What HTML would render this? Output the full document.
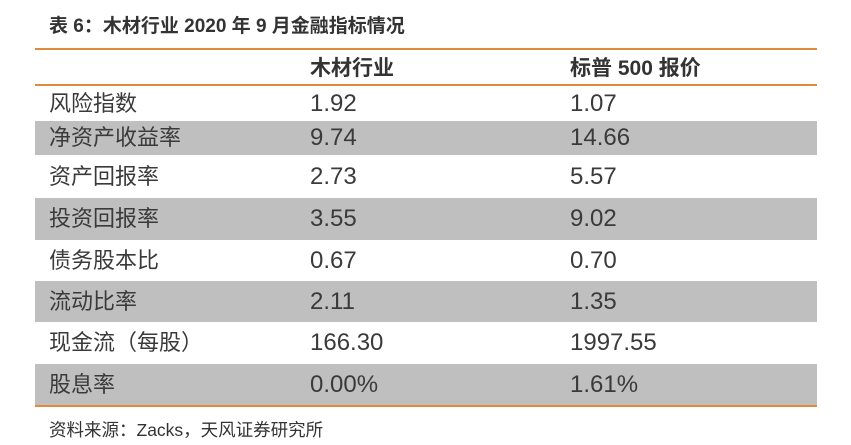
<!DOCTYPE html>
<html><head><meta charset="utf-8">
<style>
html,body{margin:0;padding:0;background:#fff;width:851px;height:445px;overflow:hidden;position:relative;font-family:"Liberation Sans","Noto Sans CJK SC",sans-serif;color:#3a3a3a}
.title{position:absolute;left:49px;top:14px;height:26px;line-height:26px;font-size:19px;font-weight:bold;color:#333;white-space:nowrap}
.rule{position:absolute;left:35px;width:782px;height:2px;background:#e08a3c}
.row{position:absolute;left:35px;width:782px}
.row.g{background:#bfbfbf}
.c{position:absolute;top:0;white-space:nowrap;font-size:24px}
.c.cjk{font-size:22px}
.c1{left:14px}.c2{left:275px}.c3{left:535px}
.hdr .c{font-size:21px;font-weight:bold;color:#333}
.src{position:absolute;left:49px;top:418px;height:24px;line-height:24px;font-size:17.5px;color:#333;white-space:nowrap}
</style></head><body>
<div class="title">表 6：木材行业 2020 年 9 月金融指标情况</div>
<div class="rule" style="top:48px"></div>
<div class="row hdr" style="top:50px;height:35px">
 <div class="c c2" style="line-height:37px">木材行业</div>
 <div class="c c3" style="line-height:37px">标普 500 报价</div>
</div>
<div class="rule" style="top:84px"></div>
<div id="rows"></div>
<div class="rule" style="top:405px;height:1.5px"></div>
<div class="src">资料来源：Zacks，天风证券研究所</div>
<script>
const labels=["风险指数","净资产收益率","资产回报率","投资回报率","债务股本比","流动比率","现金流（每股）","股息率"];
const woodValues=["1.92","9.74","2.73","3.55","0.67","2.11","166.30","0.00%"];
const spValues=["1.07","14.66","5.57","9.02","0.70","1.35","1997.55","1.61%"];
const tops=[86,121,155,198,240,281,322,364,406];
const host=document.getElementById('rows');
labels.forEach((lab,i)=>{
 const r=document.createElement('div');
 r.className='row'+(i%2===1?' g':'');
 
 
 const h=tops[i+1]-tops[i];
 r.style.top=tops[i]+'px';r.style.height=h+'px';
 [[lab,'c1 cjk','label'],[woodValues[i],'c2','wood-value'],[spValues[i],'c3','sp500-value']].forEach(([t,cls,n])=>{
  const d=document.createElement('div');
  d.className='c '+cls;d.textContent=t;
  d.style.height=h+'px';d.style.lineHeight=h+'px';
  
  
  r.appendChild(d);
 });
 host.appendChild(r);
});
</script>
</body></html>
